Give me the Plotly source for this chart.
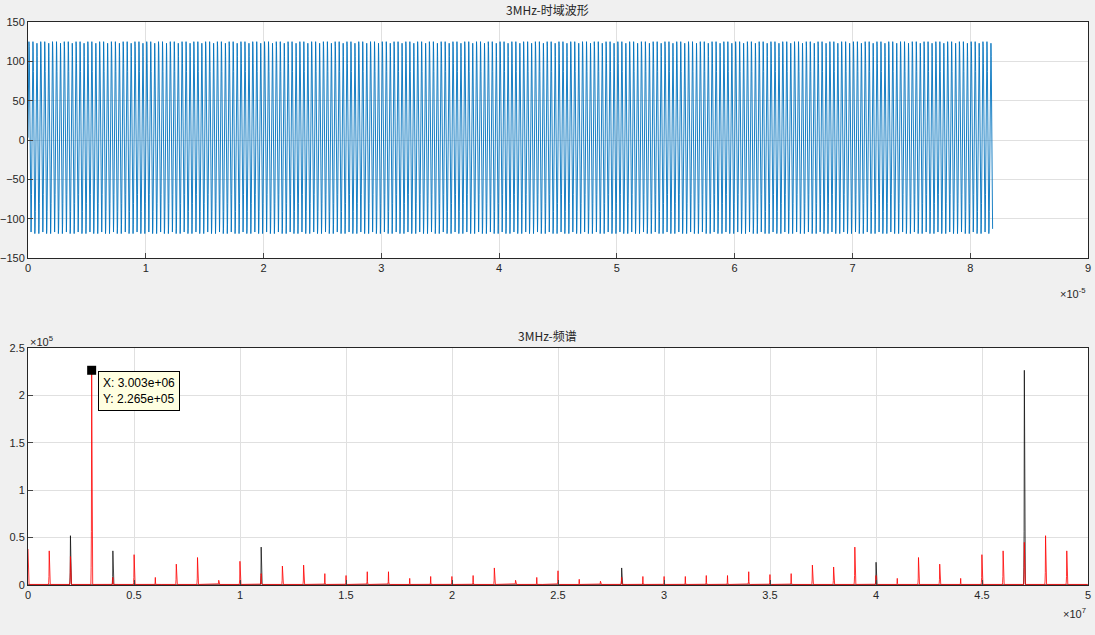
import numpy as np
import plotly.graph_objects as go

# ADC samples for one repeating block (3 cycles of 3 MHz at 50 MS/s)
half_block = [0, 45, 84, 110, 122, 116, 94, 59, 15, -30, -72, -103, -120,
              -120, -103, -72, -30, 15, 59, 94, 116, 122, 110, 84, 45]
offset = 3
fs = 5e7
n_samples = 4096

block = [v + offset for v in half_block] + [-v + offset for v in half_block]
wave = np.tile(block, n_samples // len(block) + 1)[:n_samples]
t = np.arange(n_samples) / fs

# spectrum peaks (Hz, magnitude)
red_freqs = [0, 1e6, 2e6, 3.003e6, 4e6, 5e6, 6e6, 7e6, 8e6, 9e6, 10e6, 11e6, 12e6, 13e6,
             14e6, 15e6, 16e6, 17e6, 18e6, 19e6, 20e6, 21e6, 22e6, 23e6, 24e6, 25e6,
             26e6, 27e6, 28e6, 29e6, 30e6, 31e6, 32e6, 33e6, 34e6, 35e6, 36e6, 37e6,
             38e6, 39e6, 40e6, 41e6, 42e6, 43e6, 44e6, 45e6, 46e6, 47e6, 48e6, 49e6]
red_mags = [38000, 36000, 30000, 226500, 8000, 32000, 8000, 22000, 29000, 5000, 25000,
            12000, 20000, 21000, 12000, 10000, 14000, 14000, 7000, 9000, 9000, 10000,
            18000, 5000, 8000, 15000, 6000, 4000, 8000, 9000, 9000, 9000, 10000, 10000,
            14000, 11000, 12000, 21000, 19000, 40000, 10000, 7000, 29000, 22000, 7000,
            32000, 36000, 45000, 52000, 36000]
black_freqs = [2e6, 4e6, 11e6, 28e6, 40e6, 47e6]
black_mags = [52000, 36000, 40000, 18000, 24000, 226500]

f = np.linspace(0, fs, n_samples, endpoint=False)


def spikes(freqs, mags, floor):
    y = np.full(n_samples, floor, dtype=float)
    for fr, m in zip(freqs, mags):
        i = int(round(fr / fs * n_samples))
        y[i] = m
        for d, k in ((1, 0.25), (2, 0.08)):
            for j in (i - d, i + d):
                if 0 <= j < n_samples:
                    y[j] = max(y[j], m * k)
    return y


red_y = spikes(red_freqs, red_mags, 600)
black_y = spikes(black_freqs, black_mags, 300)

fig = go.Figure()
fig.add_trace(go.Scatter(x=t, y=wave, mode='lines', line=dict(color='#0072BD', width=0.9),
                         xaxis='x', yaxis='y', showlegend=False))
fig.add_trace(go.Scatter(x=f, y=black_y, mode='lines', line=dict(color='black', width=0.7),
                         xaxis='x2', yaxis='y2', showlegend=False))
fig.add_trace(go.Scatter(x=f, y=red_y, mode='lines', line=dict(color='red', width=0.8),
                         xaxis='x2', yaxis='y2', showlegend=False))
fig.add_trace(go.Scatter(x=[3.003e6], y=[226500], mode='markers',
                         marker=dict(color='black', symbol='square', size=9),
                         xaxis='x2', yaxis='y2', showlegend=False))

ax = dict(showline=True, linecolor='#262626', mirror=True, ticks='inside', ticklen=5,
          showgrid=True, gridcolor='#e0e0e0', zeroline=False, automargin=False,
          tickfont=dict(family='Arial', size=11, color='#262626'))
dom_x = [28 / 1095, 1088 / 1095]

fig.update_layout(
    width=1095, height=635,
    margin=dict(l=0, r=0, t=0, b=0),
    paper_bgcolor='#f0f0f0', plot_bgcolor='white',
    xaxis=dict(ax, domain=dom_x, range=[0, 9e-5], anchor='y',
               tickvals=[i * 1e-5 for i in range(10)], ticktext=[str(i) for i in range(10)]),
    yaxis=dict(ax, domain=[1 - 258 / 635, 1 - 22 / 635], range=[-150, 150], anchor='x',
               tickvals=list(range(-150, 151, 50))),
    xaxis2=dict(ax, domain=dom_x, range=[0, 5e7], anchor='y2',
                tickvals=[i * 5e6 for i in range(11)],
                ticktext=['0', '0.5', '1', '1.5', '2', '2.5', '3', '3.5', '4', '4.5', '5']),
    yaxis2=dict(ax, domain=[1 - 585 / 635, 1 - 348 / 635], range=[0, 2.5e5], anchor='x2',
                tickvals=[i * 5e4 for i in range(6)],
                ticktext=['0', '0.5', '1', '1.5', '2', '2.5']),
    font=dict(family='Arial', color='#262626'),
    annotations=[
        dict(text='3MHz-时域波形', x=0.5, y=1 - 20 / 635, xref='paper', yref='paper',
             yanchor='bottom', showarrow=False, font=dict(size=12, family='Noto Sans CJK SC')),
        dict(text='3MHz-频谱', x=0.5, y=1 - 346 / 635, xref='paper', yref='paper',
             yanchor='bottom', showarrow=False, font=dict(size=12, family='Noto Sans CJK SC')),
        dict(text='×10<sup>-5</sup>', x=1088 / 1095, y=1 - 293 / 635, xref='paper',
             yref='paper', xanchor='right', showarrow=False, font=dict(size=11)),
        dict(text='×10<sup>5</sup>', x=28 / 1095, y=1 - 341 / 635, xref='paper',
             yref='paper', xanchor='left', showarrow=False, font=dict(size=11)),
        dict(text='×10<sup>7</sup>', x=1088 / 1095, y=1 - 622 / 635, xref='paper',
             yref='paper', xanchor='right', showarrow=False, font=dict(size=11)),
        dict(text='X: 3.003e+06<br>Y: 2.265e+05', x=3.3e6, y=2.05e5, xref='x2', yref='y2',
             xanchor='left', yanchor='middle', showarrow=False, align='left',
             bgcolor='#ffffe1', bordercolor='black', borderwidth=1, borderpad=4,
             font=dict(size=12, color='black')),
    ],
)

fig.write_html("out.html", config={'displayModeBar': False},
               post_script="document.body.style.margin='0';document.body.style.overflow='hidden';")
